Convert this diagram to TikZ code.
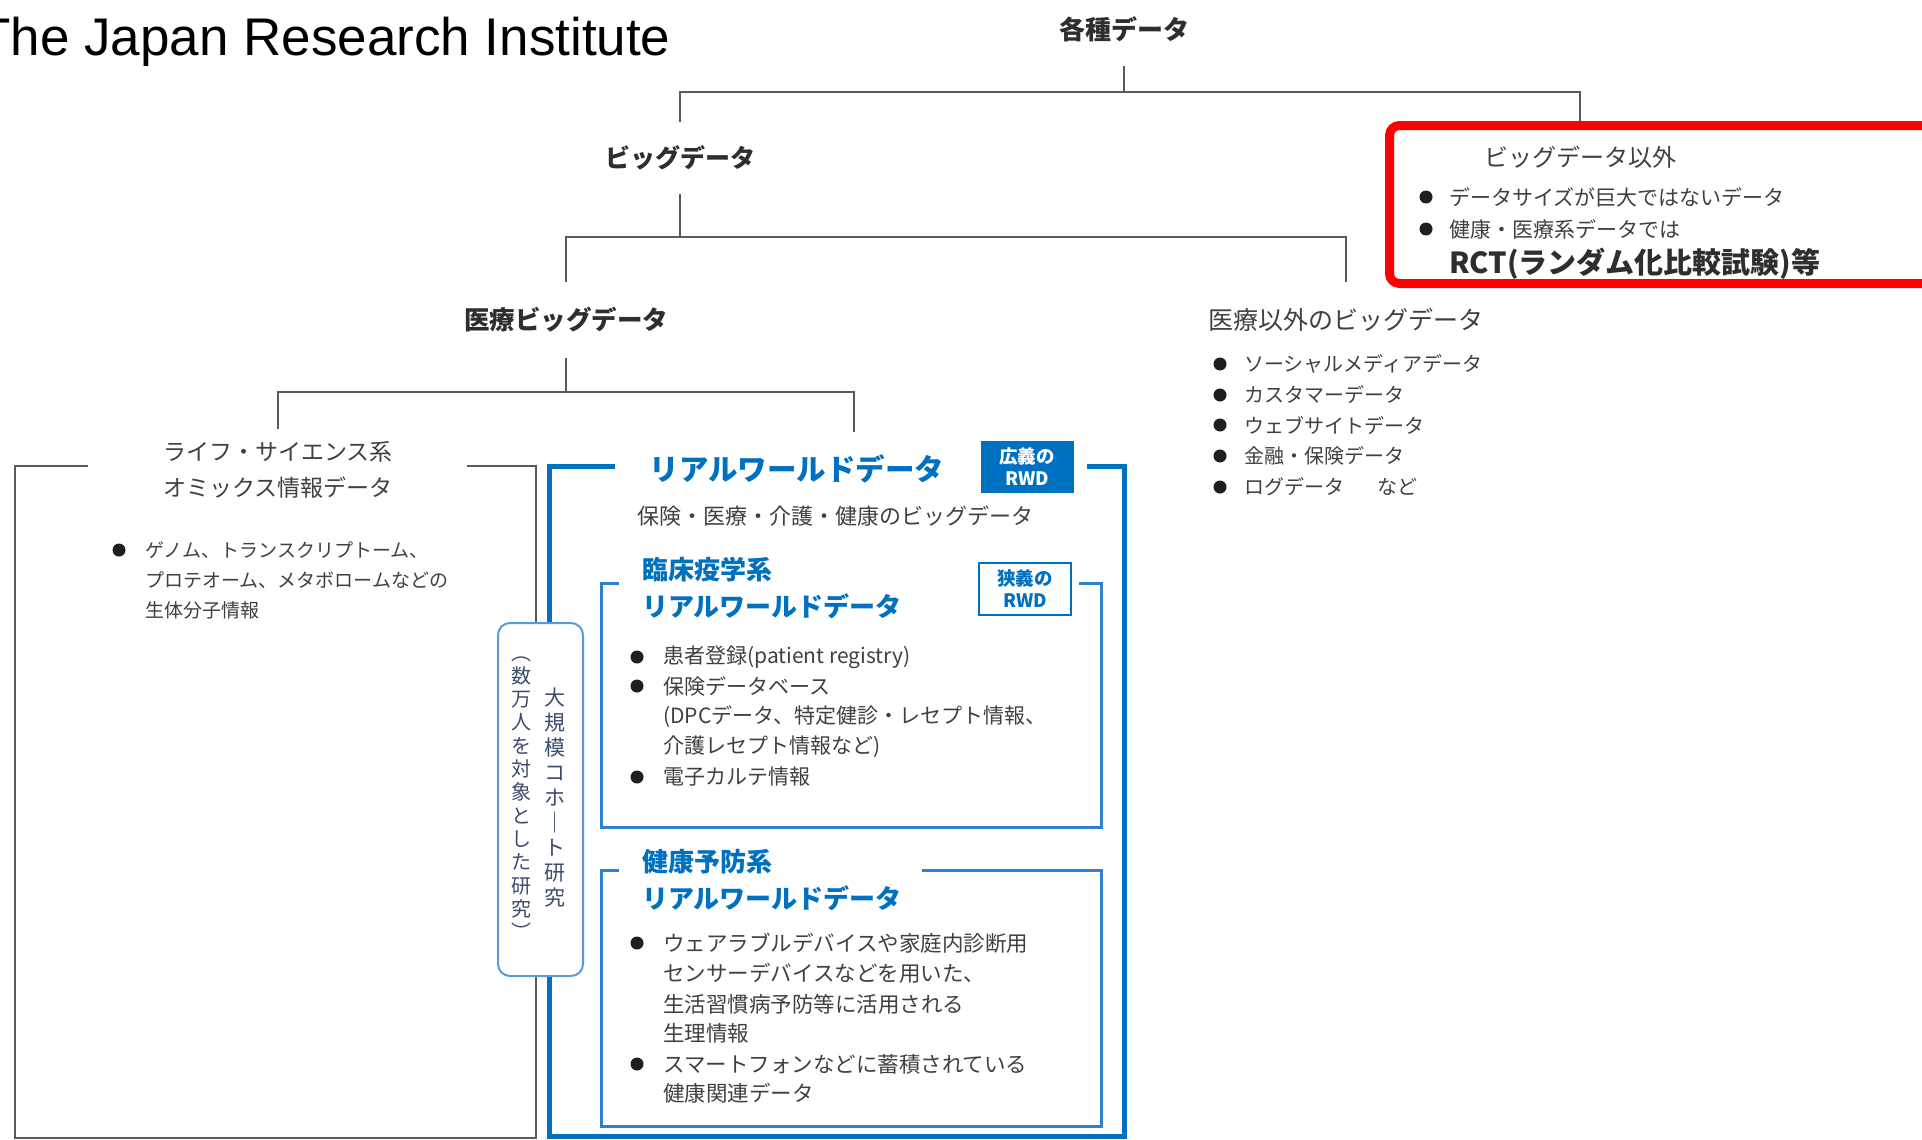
\documentclass[tikz,border=0pt]{standalone}
\usepackage{fontspec}
\setmainfont{Liberation Sans}
\newfontfamily\jp{Noto Sans CJK JP}
\usetikzlibrary{calc}
\definecolor{lineg}{HTML}{5A5A5A}
\definecolor{txtg}{HTML}{404040}
\definecolor{hdg}{HTML}{2E2E2E}
\definecolor{rwdblue}{HTML}{0070C0}
\definecolor{inblue}{HTML}{2C82CE}
\definecolor{vboxc}{HTML}{5B9BD5}
\definecolor{vtxt}{HTML}{3D4B6E}
\definecolor{bulc}{HTML}{1E1E1E}
\newcommand\fsz[2]{\fontsize{#1}{#2}\selectfont}
\begin{document}
\begin{tikzpicture}[x=1pt,y=-1pt,
  conn/.style={draw=lineg, line width=2.5pt},
  hd/.style={font=\jp\bfseries\fsz{25}{30}, text=hdg, inner sep=0},
  lbl/.style={font=\jp\fsz{24}{30}, text=txtg, inner sep=0},
  itm/.style={anchor=west, inner sep=0, text=txtg},
  blue/.style={font=\jp\bfseries\fsz{26}{30}, text=rwdblue, inner sep=0, anchor=west},
  rwdtag/.style={minimum width=93pt, minimum height=52pt, inner sep=0, align=center, font=\jp\bfseries\fsz{18.5}{22}},
  bul/.style={fill=bulc}
]
\fill[white] (0,0) rectangle (1922,1140);
\useasboundingbox (0,0) rectangle (1922,1140);

% title
\node[anchor=base west, inner sep=0, font=\fsz{53}{60}, text=black] (title) at (-22,56) {The Japan Research Institute};

% tree top
\node[hd, font=\jp\bfseries\fsz{26}{30}, minimum height=74pt] (kakushu) at (1124,29) {各種データ};
\node[hd, minimum height=72pt] (big) at (680,158) {ビッグデータ};
\coordinate (j1) at (1124,92);
\coordinate (rbtop) at (1580,121);
\draw[conn] (kakushu.south) -- (j1);
\draw[conn] (j1) -| (big.north);
\draw[conn] (j1) -| (rbtop);

% red box
\node[draw=red, line width=9pt, rounded corners=10pt, minimum width=560pt, minimum height=158pt, inner sep=0] (redbox) at (1669.5,204.5) {};
\node[lbl] (ikagai) at (1580,157) {ビッグデータ以外};
\fill[bul] (1426,197) circle (6.5pt);
\node[itm, font=\jp\fsz{21}{26}] (r1) at (1449,197) {データサイズが巨大ではないデータ};
\fill[bul] (1426,229) circle (6.5pt);
\node[itm, font=\jp\fsz{21}{26}] (r2) at (1449,229) {健康・医療系データでは};
\node[itm, font=\jp\bfseries\fsz{29}{32}, text=hdg] (rct) at (1449,264) {RCT(ランダム化比較試験)等};

% second level
\node[hd, font=\jp\bfseries\fsz{25.5}{30}, minimum height=76pt] (iryo) at (566,320) {医療ビッグデータ};
\node[lbl, font=\jp\fsz{25}{30}, minimum height=76pt] (igai) at (1346,320) {医療以外のビッグデータ};
\coordinate (j2) at (680,237);
\draw[conn] (big.south) -- (j2);
\draw[conn] (j2) -| (iryo.north);
\draw[conn] (j2) -| (igai.north);

% non-medical list
\fill[bul] (1220,364) circle (6.5pt);
\node[itm, font=\jp\fsz{20}{26}] (g1) at (1244,364) {ソーシャルメディアデータ};
\fill[bul] (1220,395) circle (6.5pt);
\node[itm, font=\jp\fsz{20}{26}] (g2) at (1244,395) {カスタマーデータ};
\fill[bul] (1220,425) circle (6.5pt);
\node[itm, font=\jp\fsz{20}{26}] (g3) at (1244,425) {ウェブサイトデータ};
\fill[bul] (1220,456) circle (6.5pt);
\node[itm, font=\jp\fsz{20}{26}] (g4) at (1244,456) {金融・保険データ};
\fill[bul] (1220,487) circle (6.5pt);
\node[itm, font=\jp\fsz{20}{26}] (g5) at (1244,487) {ログデータ\hspace{33pt}など};

% third level
\node[lbl, font=\jp\fsz{23}{36}, align=center, minimum height=82pt] (life) at (278,470) {ライフ・サイエンス系\\オミックス情報データ};
\coordinate (j3) at (566,392);
\coordinate (rwdtop) at (854,432);
\draw[conn] (iryo.south) -- (j3);
\draw[conn] (j3) -| (life.north);
\draw[conn] (j3) -| (rwdtop);

% life science box
\draw[conn] (88,466) -- (15,466) -- (15,1138) -- (536,1138) -- (536,466) -- (467,466);
\fill[bul] (119,550) circle (6.5pt);
\node[itm, font=\jp\fsz{19}{26}] (l1) at (145,550) {ゲノム、トランスクリプトーム、};
\node[itm, font=\jp\fsz{19}{26}] (l2) at (145,580) {プロテオーム、メタボロームなどの};
\node[itm, font=\jp\fsz{19}{26}] (l3) at (145,610) {生体分子情報};

% RWD outer box
\draw[rwdblue, line width=5pt] (615,466) -- (549,466) -- (549,1136) -- (1124,1136) -- (1124,466) -- (1087,466);
\node[font=\jp\bfseries\fsz{29.5}{32}, text=rwdblue, inner sep=0] (rwd) at (797,469) {リアルワールドデータ};
\node[rwdtag, fill=rwdblue, text=white] (kogi) at (1027,467) {広義の\\RWD};
\node[itm, font=\jp\fsz{22}{26}] (rwdsub) at (637,516) {保険・医療・介護・健康のビッグデータ};

% inner box 1
\draw[inblue, line width=3pt] (619,583) -- (601,583) -- (601,827) -- (1101,827) -- (1101,583) -- (1079,583);
\node[blue] (c1) at (642,570) {臨床疫学系};
\node[blue] (c2) at (642,606) {リアルワールドデータ};
\node[rwdtag, draw=rwdblue, line width=2pt, text=rwdblue, minimum width=92pt] (kyogi) at (1025,589) {狭義の\\RWD};
\fill[bul] (637,657) circle (6.5pt);
\node[itm, font=\jp\fsz{21}{26}] (a1) at (663,657) {患者登録(patient registry)};
\fill[bul] (637,686) circle (6.5pt);
\node[itm, font=\jp\fsz{21}{26}] (a2) at (663,686) {保険データベース};
\node[itm, font=\jp\fsz{21}{26}] (a3) at (663,717) {(DPCデータ、特定健診・レセプト情報、};
\node[itm, font=\jp\fsz{21}{26}] (a4) at (663,747) {介護レセプト情報など)};
\fill[bul] (637,777) circle (6.5pt);
\node[itm, font=\jp\fsz{21}{26}] (a5) at (663,777) {電子カルテ情報};

% inner box 2
\draw[inblue, line width=3pt] (619,870) -- (601,870) -- (601,1126) -- (1101,1126) -- (1101,870) -- (922,870);
\node[blue] (h1) at (642,862) {健康予防系};
\node[blue] (h2) at (642,898) {リアルワールドデータ};
\fill[bul] (637,943) circle (6.5pt);
\node[itm, font=\jp\fsz{21.5}{26}] (b1) at (663,943) {ウェアラブルデバイスや家庭内診断用};
\node[itm, font=\jp\fsz{21.5}{26}] (b2) at (663,973) {センサーデバイスなどを用いた、};
\node[itm, font=\jp\fsz{21.5}{26}] (b3) at (663,1004) {生活習慣病予防等に活用される};
\node[itm, font=\jp\fsz{21.5}{26}] (b4) at (663,1033) {生理情報};
\fill[bul] (637,1064) circle (6.5pt);
\node[itm, font=\jp\fsz{21.5}{26}] (b5) at (663,1064) {スマートフォンなどに蓄積されている};
\node[itm, font=\jp\fsz{21.5}{26}] (b6) at (663,1093) {健康関連データ};

% vertical cohort box
\node[draw=vboxc, line width=2pt, fill=white, rounded corners=12pt, minimum width=85pt, minimum height=353pt, inner sep=0] (vbox) at (540.5,799.5) {};
\node[font=\jp\fsz{21}{25}, text=vtxt, align=center, inner sep=0] (vcol1) at (555,798) {大\\規\\模\\コ\\ホ\\｜\\ト\\研\\究};
\node[font=\jp\fsz{20}{23.3}, text=vtxt, align=center, inner sep=0] (vcol2) at (521,798) {︵\\数\\万\\人\\を\\対\\象\\と\\し\\た\\研\\究\\︶};
\end{tikzpicture}
\end{document}
